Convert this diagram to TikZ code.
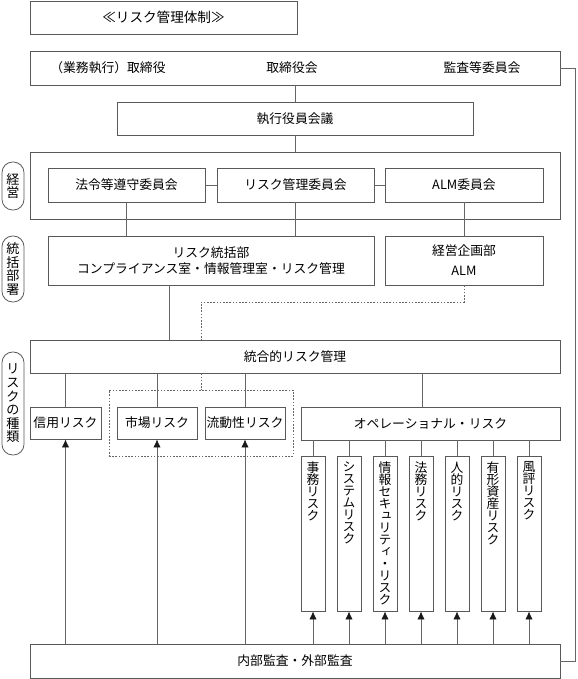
\documentclass[tikz,border=0pt]{standalone}
\usepackage{fontspec}
\setmainfont{Noto Sans CJK JP}
\newfontfamily\vjp[RawFeature=+vert]{Noto Sans CJK JP}
\usetikzlibrary{arrows.meta}

\begin{document}
\begin{tikzpicture}[x=0.75pt, y=-0.75pt,
    font=\fontsize{9.6}{12}\selectfont,
    box/.style={draw=black!65, line width=0.6pt, inner sep=0pt, align=center},
    pill/.style={draw=black!65, line width=0.6pt, rounded corners=8pt, inner sep=0pt,
        minimum width=16.5pt, align=center, font=\fontsize{9.8}{10.2}\selectfont},
    vtext/.style={anchor=north, inner sep=0pt, yshift=-4.5pt, align=center,
        font=\vjp\fontsize{9.6}{9}\selectfont},
    link/.style={draw=black!60, line width=0.6pt},
    dotlink/.style={draw=black!60, line width=0.7pt, dash pattern=on 1.2pt off 1.2pt},
    >={Latex[length=6pt,width=5.5pt,color=black!90]}]
    \useasboundingbox (0,0) rectangle (578,679);

    % top part
    \node[box, minimum width=200.25pt, minimum height=24.75pt](TITLE) at (163.5,17.5) {\fontsize{10.2}{12}\selectfont≪リスク管理体制≫};
    \node[box, minimum width=397.5pt, minimum height=25.5pt](BOARD) at (295,68) {};
    \node(BDIR) at (108,68) {（業務執行）取締役};
    \node(BMEET) at (292,68) {取締役会};
    \node(AUDC) at (482,68) {監査等委員会};
    \node[box, minimum width=267pt, minimum height=24.75pt](EXEC) at (295,118.5) {執行役員会議};

    % management
    \node[box, minimum width=397.5pt, minimum height=50.25pt](MGMT) at (295,185.5) {};
    \node[box, minimum width=117.75pt, minimum height=25.5pt](LAW) at (126.5,185) {法令等遵守委員会};
    \node[box, minimum width=117.75pt, minimum height=25.5pt](RMC) at (295.5,185) {リスク管理委員会};
    \node[box, minimum width=118.5pt, minimum height=25.5pt](ALMC) at (464,185) {ALM委員会};
    \node[box, minimum width=244.5pt, minimum height=36.75pt](RDEPT) at (211,260.5) {リスク統括部\\コンプライアンス室・情報管理室・リスク管理};
    \node[box, minimum width=118.5pt, minimum height=36.75pt](PLAN) at (464,260.5) {経営企画部\\[3pt]ALM};

    % risk kinds
    \node[box, dotlink, minimum width=138pt, minimum height=49.5pt](GRP) at (201,423) {};
    \node[box, minimum width=397.5pt, minimum height=24.75pt](INTEG) at (295,356.5) {統合的リスク管理};
    \node[box, minimum width=53.25pt, minimum height=24pt](CREDIT) at (65.5,423) {信用リスク};
    \node[box, minimum width=60pt, minimum height=24pt](MARKET) at (157,423) {市場リスク};
    \node[box, minimum width=60pt, minimum height=24pt](LIQ) at (245,423) {流動性リスク};
    \node[box, minimum width=194.25pt, minimum height=24.75pt](OPER) at (430.5,423.5) {オペレーショナル・リスク};
    \foreach \nm/\txt [count=\i from 0] in {R1/{事\\務\\リ\\ス\\ク}, R2/{シ\\ス\\テ\\ム\\リ\\ス\\ク},
        R3/{情\\報\\セ\\キ\\ュ\\リ\\テ\\ィ\\・\\リ\\ス\\ク}, R4/{法\\務\\リ\\ス\\ク},
        R5/{人\\的\\リ\\ス\\ク}, R6/{有\\形\\資\\産\\リ\\ス\\ク}, R7/{風\\評\\リ\\ス\\ク}}
        \node[box, minimum width=18pt, minimum height=116.25pt,
            label={[vtext]north:{\txt}}](\nm) at (313+36*\i,533.5) {};
    \node[box, minimum width=397.5pt, minimum height=25.5pt](AUDIT) at (295,661) {内部監査・外部監査};

    % side labels
    \node[pill, minimum height=36pt](KEIEI) at (13,186) {経\\営};
    \node[pill, minimum height=49.5pt](TOKATSU) at (13,269) {統\\括\\部\\署};
    \node[pill, minimum height=77.25pt](SHURUI) at (13,403.5) {リ\\ス\\ク\\の\\種\\類};

    % connectors
    \coordinate(rdx) at (169,300);
    \coordinate(dlx) at (201,302);
    \coordinate(opx) at (422,390);
    \draw[link] (BOARD) -- (EXEC);
    \draw[link] (EXEC) -- (MGMT.north);
    \draw[link] (LAW) -- (RMC);
    \draw[link] (RMC) -- (ALMC);
    \draw[link] (LAW.south) -- (LAW.south |- RDEPT.north);
    \draw[link] (RMC.south) -- (RMC.south |- RDEPT.north);
    \draw[link] (ALMC) -- (PLAN);
    \draw[link] (RDEPT.south -| rdx) -- (INTEG.north -| rdx);
    \draw[dotlink] (PLAN.south) |- (dlx) -- (INTEG.north -| dlx);
    \draw[dotlink] (INTEG.south -| dlx) -- (GRP.north -| dlx);
    \draw[link] (INTEG.south -| CREDIT) -- (CREDIT);
    \draw[link] (INTEG.south -| MARKET) -- (MARKET);
    \draw[link] (INTEG.south -| LIQ) -- (LIQ);
    \draw[link] (INTEG.south -| opx) -- (OPER.north -| opx);
    \foreach \nm in {R1,R2,R3,R4,R5,R6,R7}
        \draw[link] (OPER.south -| \nm) -- (\nm);
    \foreach \nm in {CREDIT,MARKET,LIQ,R1,R2,R3,R4,R5,R6,R7}
        \draw[link,->] (AUDIT.north -| \nm) -- (\nm);
    \draw[link] (BOARD.east) -- ++(15,0) |- (AUDIT.east);
\end{tikzpicture}
\end{document}
